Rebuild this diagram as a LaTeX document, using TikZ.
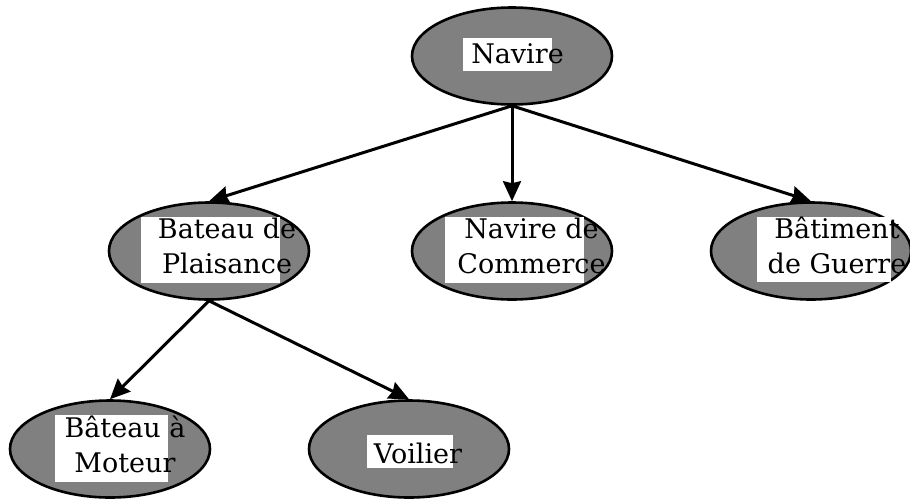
\documentclass[tikz,border=0pt]{standalone}
\usepackage{fontspec}
\setmainfont{DejaVu Serif}
\usetikzlibrary{arrows.meta,shapes.geometric}

\tikzset{
  ship/.style={ellipse, draw=black, fill=gray, line width=2.6pt,
    minimum width=200pt, minimum height=97pt, inner sep=0pt},
  blank/.style={fill=white, inner sep=0pt},
  shiptext/.style={inner sep=0pt, align=center,
    font=\fontsize{27}{35}\selectfont},
  isa/.style={-{Stealth[length=20pt,width=18pt,inset=2pt]}, line width=3pt}
}

\begin{document}
\begin{tikzpicture}[x=1pt,y=-1pt]
\useasboundingbox (0,0) rectangle (910,499);

% the ellipses
\node[ship] (navire) at (512,56) {};
\node[ship] (plaisance) at (209,251) {};
\node[ship] (commerce) at (512,251) {};
\node[ship] (guerre) at (811,251) {};
\node[ship] (moteur) at (110,449) {};
\node[ship] (voilier) at (409,449) {};

% white boxes behind the text
\node[blank, minimum width=89pt, minimum height=33pt] (navire-b) at (507.5,54.5) {};
\node[blank, minimum width=139pt, minimum height=66pt] (plaisance-b) at (210.5,250) {};
\node[blank, minimum width=139pt, minimum height=66pt] (commerce-b) at (514.5,250) {};
\node[blank, minimum width=134pt, minimum height=65pt] (guerre-b) at (824,249.5) {};
\node[blank, minimum width=113pt, minimum height=67pt] (moteur-b) at (111.5,448.5) {};
\node[blank, minimum width=86pt, minimum height=33pt] (voilier-b) at (410,451.5) {};

% labels
\node[shiptext] (navire-t) at (517.5,53.5) {Navire};
\node[shiptext] (plaisance-t) at (227,245.5) {Bateau de\\Plaisance};
\node[shiptext] (commerce-t) at (531.5,245.5) {Navire de\\Commerce};
\node[shiptext] (guerre-t) at (837,245.5) {Bâtiment\\de Guerre};
\node[shiptext] (moteur-t) at (125,444.5) {Bâteau à\\Moteur};
\node[shiptext] (voilier-t) at (418,453) {Voilier};

% the arrows
\draw[isa] (navire.south) -- (plaisance.north);
\draw[isa] (navire.south) -- (commerce.north);
\draw[isa] (navire.south) -- (guerre.north);
\draw[isa] (plaisance.south) -- (moteur.north);
\draw[isa] (plaisance.south) -- (voilier.north);

\end{tikzpicture}
\end{document}
